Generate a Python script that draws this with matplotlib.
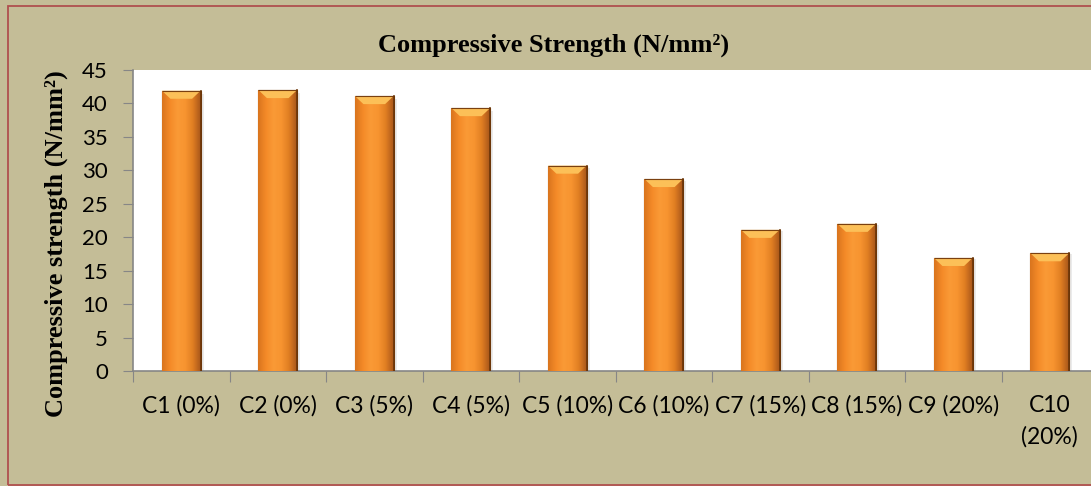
import numpy as np
import matplotlib
matplotlib.use("Agg")
import matplotlib.pyplot as plt
from matplotlib.patches import Rectangle, Polygon
from matplotlib.colors import LinearSegmentedColormap

categories = ["C1 (0%)", "C2 (0%)", "C3 (5%)", "C4 (5%)", "C5 (10%)",
              "C6 (10%)", "C7 (15%)", "C8 (15%)", "C9 (20%)", "C10\n(20%)"]
strength = [41.9, 42.0, 41.1, 39.3, 30.7, 28.7, 21.1, 22.0, 16.9, 17.6]
yticks = [0, 5, 10, 15, 20, 25, 30, 35, 40, 45]

W, H = 1091, 486
fig = plt.figure(figsize=(W / 100, H / 100), dpi=100)
bg = "#C4BD97"
fig.patch.set_facecolor(bg)

# outer frame (right side cropped in the reference)
fig.patches.append(Rectangle((8 / W, 1 / H), 1.2, 1 - 7 / H, transform=fig.transFigure,
                             facecolor="none", edgecolor="#B0504E", linewidth=1.3, zorder=0))

ax = fig.add_axes([133 / W, 1 - 371 / H, 965 / W, 301 / H])
ax.set_facecolor("white")
x = np.arange(len(categories))
bars = ax.bar(x, strength, width=0.4, color="#F7962F", edgecolor="#7A4010",
              linewidth=0.8, zorder=3)

cmap = LinearSegmentedColormap.from_list(
    "bar", ["#D9751E", "#F48A28", "#FA9A36", "#F79430", "#E07E22", "#A8561A"])
grad = np.linspace(0, 1, 64).reshape(1, -1)
for b in bars:
    x0, w, h = b.get_x(), b.get_width(), b.get_height()
    im = ax.imshow(grad, cmap=cmap, aspect="auto", extent=(x0, x0 + w, 0, h),
                   zorder=3.5, interpolation="bicubic")
    im.set_clip_path(b)
    # top bevel
    bh = 1.2
    bw = w * 0.22
    ax.add_patch(Polygon([(x0, h), (x0 + w, h), (x0 + w - bw, h - bh), (x0 + bw, h - bh)],
                         closed=True, facecolor="#FCC058", edgecolor="none", zorder=4))
    # shadow
    ax.add_patch(Rectangle((x0 + w, 0), w * 0.08, h * 0.99, facecolor="#d8d8d8",
                           edgecolor="none", alpha=0.5, zorder=2))
    ax.add_patch(Rectangle((x0, h), w, 0, fill=False, edgecolor="#7A4010",
                           linewidth=0.8, zorder=5))
    ax.plot([x0 + w, x0 + w], [0, h], color="#6A3508", lw=1.2, zorder=5)

ax.set_xlim(-0.5, len(categories) - 0.5)
ax.set_ylim(0, 45)
ax.set_yticks(yticks)
ax.set_yticklabels([str(v) for v in yticks], fontsize=16, family="Lato")
ax.tick_params(axis="y", direction="out", length=7, color="#868686", pad=11)
ax.set_xticks(np.arange(-0.5, len(categories), 1))
ax.set_xticklabels([])
ax.tick_params(axis="x", which="major", direction="out", length=8, color="#868686")
ax.set_xticks(x, minor=True)
ax.set_xticklabels(categories, minor=True, fontsize=16.5, family="Lato",
                   linespacing=1.6, va="top")
ax.tick_params(axis="x", which="minor", length=0, pad=17)

for s in ["top", "right"]:
    ax.spines[s].set_visible(False)
for s in ["left", "bottom"]:
    ax.spines[s].set_color("#868686")
    ax.spines[s].set_linewidth(1.2)

ax.set_ylabel("Compressive strength (N/mm²)", fontsize=19,
              fontweight="bold", family="Liberation Serif")
ax.yaxis.set_label_coords(-(133 - 68) / 965, (371 - 244) / 301)

fig.text(554 / W, 1 - 45 / H, "Compressive Strength (N/mm²)",
         ha="center", va="center", fontsize=19, fontweight="bold",
         family="Liberation Serif")

fig.savefig("out.png", dpi=100, facecolor=bg)
